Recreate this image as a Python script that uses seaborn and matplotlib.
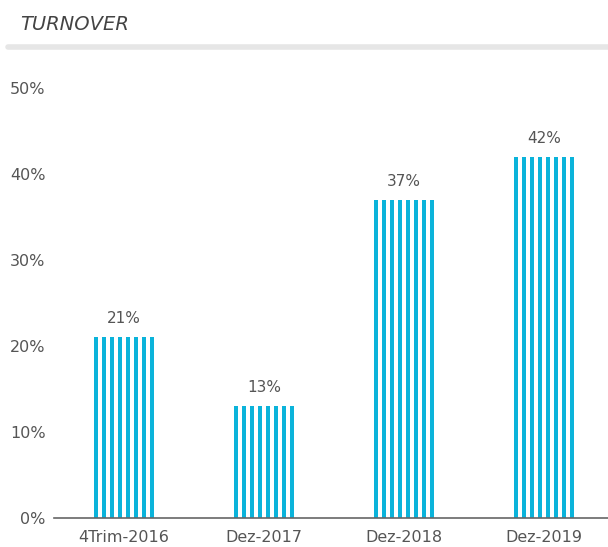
import pandas as pd
import matplotlib.pyplot as plt
import seaborn as sns

periods = ['4Trim-2016', 'Dez-2017', 'Dez-2018', 'Dez-2019']
turnover = [21, 13, 37, 42]
yticks = [0, 10, 20, 30, 40, 50]
n_stripes = 8

BLUE = '#0bb3da'
GREY = '#555555'

sns.set_style('white')
plt.rcParams['font.family'] = ['DejaVu Sans']

# each bar is drawn as 8 dodged thin bars to get the striped look
df = pd.DataFrame([(p, v, s) for p, v in zip(periods, turnover) for s in range(n_stripes)],
                  columns=['period', 'value', 'stripe'])

fig = plt.figure(figsize=(6.08, 5.47), dpi=100)
ax = fig.add_axes([54 / 608, 29 / 547, 560 / 608, 430 / 547])

sns.barplot(data=df, x='period', y='value', hue='stripe', order=periods,
            palette=[BLUE] * n_stripes, width=0.457, gap=0.4, dodge=True,
            legend=False, ax=ax, linewidth=0, saturation=1)

for i, v in enumerate(turnover):
    ax.text(i, v + 1.3, f'{v}%', ha='center', va='bottom', fontsize=11, color=GREY)

ax.set_xlim(-0.5, 3.5)
ax.set_ylim(0, 50)
ax.set_yticks(yticks)
ax.set_yticklabels([f'{t}%' for t in yticks])
ax.set_xlabel('')
ax.set_ylabel('')
sns.despine(ax=ax, left=True, top=True, right=True)
ax.spines['bottom'].set_color('#666666')
ax.spines['bottom'].set_linewidth(1.2)

ax.set_xticks([0.5, 1.5, 2.5], minor=True)
ax.tick_params(axis='x', which='major', length=0, labelsize=11.5, labelcolor=GREY, pad=9)
ax.tick_params(axis='x', which='minor', direction='in', length=10, width=1, color='#666666')
ax.tick_params(axis='y', length=0, labelsize=11.5, labelcolor=GREY, pad=6)

fig.text(20 / 608, 1 - 24 / 547, 'TURNOVER', fontsize=14, style='italic',
         color='#444444', va='center', ha='left')
fig.add_artist(plt.Line2D([8 / 608, 1.0], [1 - 47 / 547] * 2, color='#e6e6e6',
                          linewidth=4, solid_capstyle='round', transform=fig.transFigure))

fig.savefig('out.png', dpi=100)
